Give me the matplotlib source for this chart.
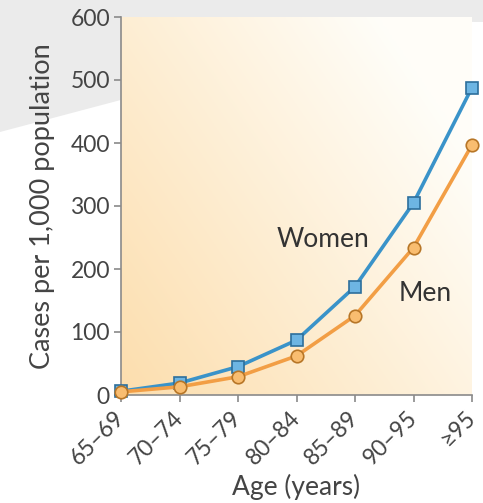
import matplotlib.pyplot as plt
import matplotlib.patches as mpatches
import numpy as np

plt.rcParams['font.family'] = ['Lato', 'DejaVu Sans']

# data
age_groups = ['65–69', '70–74', '75–79', '80–84', '85–89', '90–95', '≥95']
women = [6, 19, 45, 87, 172, 305, 488]
men = [5, 13, 29, 62, 126, 234, 397]
y_ticks = [0, 100, 200, 300, 400, 500, 600]

fig = plt.figure(figsize=(4.83, 5.03), dpi=100)
fig.patch.set_facecolor('white')

# light grey patch behind the top-left like the scanned original
grey = mpatches.Polygon([(0, 1), (1, 1), (1, 1 - 22 / 503), (0.25, 1 - 20 / 503),
                         (0.25, 1 - 100 / 503), (0, 1 - 132 / 503)],
                        closed=True, transform=fig.transFigure,
                        facecolor='#ebebeb', edgecolor='none', zorder=-10)
fig.patches.append(grey)

ax = fig.add_axes([121 / 483, 1 - 395 / 503, (472 - 121) / 483, (395 - 17) / 503])

x = np.arange(len(age_groups))
ax.set_xlim(0, len(age_groups) - 1)
ax.set_ylim(0, 600)

# diagonal gradient background, warm at bottom-left, pale at top-right
gx, gy = np.meshgrid(np.linspace(0, 1, 200), np.linspace(0, 1, 200))
t = np.clip((gx * 0.75 + gy * 0.55) / 1.1, 0, 1)
c0 = np.array([0.99, 0.87, 0.68])
c1 = np.array([1.0, 0.995, 0.975])
img = c0[None, None, :] * (1 - t[..., None]) + c1[None, None, :] * t[..., None]
ax.imshow(img, extent=[0, len(age_groups) - 1, 0, 600], origin='lower',
          aspect='auto', zorder=0)

ax.plot(x, women, color='#3a93c9', lw=2.6, marker='s', ms=9,
        mfc='#6db5e3', mec='#2d6f9c', mew=1.2, clip_on=False, zorder=3)
ax.plot(x, men, color='#f29e45', lw=2.6, marker='o', ms=9,
        mfc='#f9bd70', mec='#b77627', mew=1.2, clip_on=False, zorder=3)

ax.text(3.45, 247, 'Women', fontsize=19, color='#333333', ha='center', va='center')
ax.text(5.2, 161, 'Men', fontsize=19, color='#333333', ha='center', va='center')

ax.set_yticks(y_ticks)
ax.set_xticks(x)
ax.set_xticklabels(age_groups, rotation=45, ha='right', va='center',
                   rotation_mode='anchor')

for s in ['top', 'right']:
    ax.spines[s].set_visible(False)
for s in ['left', 'bottom']:
    ax.spines[s].set_color('#8a8a8a')
    ax.spines[s].set_linewidth(1.2)

ax.tick_params(axis='both', colors='#8a8a8a', length=5, width=1.2,
               labelsize=16.5, labelcolor='#444444')
ax.tick_params(axis='x', pad=9)
ax.tick_params(axis='y', pad=3)

ax.set_ylabel('Cases per 1,000 population', fontsize=19.5, color='#444444', labelpad=11)
ax.set_xlabel('Age (years)', fontsize=19, color='#444444', labelpad=4)

fig.savefig('out.png', dpi=100)
